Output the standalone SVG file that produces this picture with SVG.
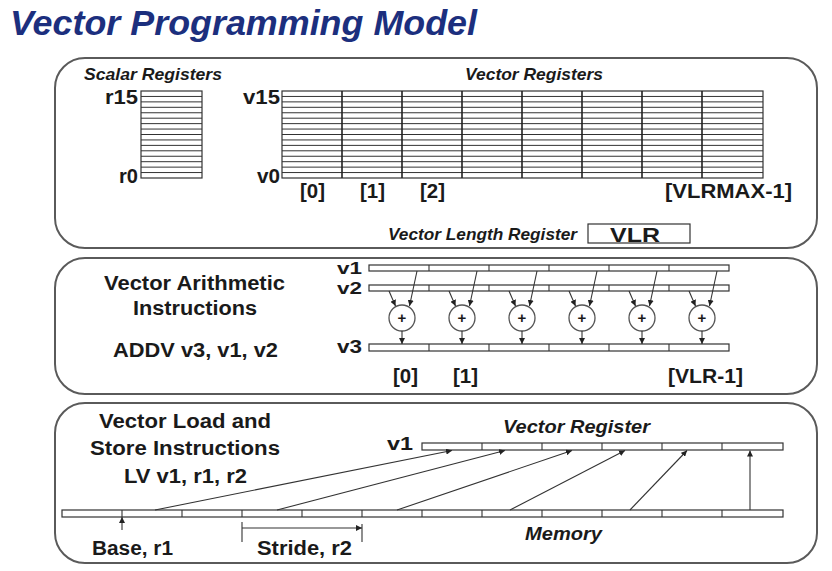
<svg xmlns="http://www.w3.org/2000/svg" width="832" height="571" viewBox="0 0 832 571">
<defs>
<marker id="ah" markerWidth="6" markerHeight="6" refX="6" refY="3" orient="auto" markerUnits="userSpaceOnUse">
<path d="M0,0 L6,3 L0,6 Z" fill="#222"/>
</marker>
<style>
.panel{fill:#fff;stroke:#5a5a5a;stroke-width:2}
.t{font-family:"Liberation Sans",Arial,sans-serif;font-weight:bold;fill:#1a1a1a}
.ti{font-family:"Liberation Sans",Arial,sans-serif;font-weight:bold;font-style:italic;fill:#1a1a1a}
.box{fill:#fff;stroke:#333;stroke-width:1.2}
.grid{stroke:#333;stroke-width:1;fill:none}
.col{stroke:#222;stroke-width:1.6;fill:none}
.ln{stroke:#333;stroke-width:1.1;fill:none}
.arr{stroke:#333;stroke-width:1.1;fill:none;marker-end:url(#ah)}
.circ{fill:#fff;stroke:#555;stroke-width:1.3}
</style>
</defs>
<rect x="0" y="0" width="832" height="571" fill="#fff"/>
<text class="ti" x="10" y="35" font-size="35" textLength="467" lengthAdjust="spacingAndGlyphs" style="fill:#1c2f7e">Vector Programming Model</text>

<g id="panel-registers">
<rect class="panel" x="55" y="58" width="762" height="190" rx="30"/>
<text class="ti" x="84" y="80" font-size="17" textLength="138" lengthAdjust="spacingAndGlyphs">Scalar Registers</text>
<text class="ti" x="465" y="80" font-size="17" textLength="138" lengthAdjust="spacingAndGlyphs">Vector Registers</text>
<g id="scalar-regs">
<rect class="box" x="141" y="91" width="61" height="87"/>
<path class="grid" d="M141,96.44H202M141,101.88H202M141,107.31H202M141,112.75H202M141,118.19H202M141,123.63H202M141,129.06H202M141,134.5H202M141,139.94H202M141,145.38H202M141,150.81H202M141,156.25H202M141,161.69H202M141,167.13H202M141,172.56H202"/>
<text class="t" x="105" y="104" font-size="20" textLength="33" lengthAdjust="spacingAndGlyphs">r15</text>
<text class="t" x="119" y="183" font-size="20" textLength="19" lengthAdjust="spacingAndGlyphs">r0</text>
</g>
<g id="vector-regs">
<rect class="box" x="282" y="91" width="481" height="87"/>
<path class="grid" d="M282,96.44H763M282,101.88H763M282,107.31H763M282,112.75H763M282,118.19H763M282,123.63H763M282,129.06H763M282,134.5H763M282,139.94H763M282,145.38H763M282,150.81H763M282,156.25H763M282,161.69H763M282,167.13H763M282,172.56H763"/>
<path class="col" d="M342,91V178M402,91V178M462,91V178M522,91V178M582,91V178M642,91V178M702,91V178"/>
<text class="t" x="243" y="104" font-size="20" textLength="37" lengthAdjust="spacingAndGlyphs">v15</text>
<text class="t" x="257" y="183" font-size="20" textLength="23" lengthAdjust="spacingAndGlyphs">v0</text>
<text class="t" x="300" y="198" font-size="21" textLength="25" lengthAdjust="spacingAndGlyphs">[0]</text>
<text class="t" x="360" y="198" font-size="21" textLength="25" lengthAdjust="spacingAndGlyphs">[1]</text>
<text class="t" x="420" y="198" font-size="21" textLength="25" lengthAdjust="spacingAndGlyphs">[2]</text>
<text class="t" x="665" y="198" font-size="21" textLength="127" lengthAdjust="spacingAndGlyphs">[VLRMAX-1]</text>
</g>
<g id="vlr">
<text class="ti" x="388" y="240" font-size="17" textLength="189" lengthAdjust="spacingAndGlyphs">Vector Length Register</text>
<rect class="box" x="588" y="224" width="102" height="19"/>
<text class="t" x="610" y="242" font-size="20" textLength="50" lengthAdjust="spacingAndGlyphs">VLR</text>
</g>
</g>

<g id="panel-arith">
<rect class="panel" x="55" y="258" width="762" height="136" rx="30"/>
<text class="t" x="104" y="290" font-size="20" textLength="181" lengthAdjust="spacingAndGlyphs">Vector Arithmetic</text>
<text class="t" x="133" y="315" font-size="20" textLength="124" lengthAdjust="spacingAndGlyphs">Instructions</text>
<text class="t" x="113" y="357" font-size="20" textLength="165" lengthAdjust="spacingAndGlyphs">ADDV v3, v1, v2</text>
<g id="bar-v1">
<rect class="box" x="369" y="265" width="360" height="6"/>
<path class="ln" d="M429,265V271M489,265V271M549,265V271M609,265V271M669,265V271"/>
<text class="t" x="337" y="274" font-size="16" textLength="25" lengthAdjust="spacingAndGlyphs">v1</text>
</g>
<g id="bar-v2">
<rect class="box" x="369" y="285" width="360" height="6"/>
<path class="ln" d="M429,285V291M489,285V291M549,285V291M609,285V291M669,285V291"/>
<text class="t" x="337" y="294" font-size="16" textLength="25" lengthAdjust="spacingAndGlyphs">v2</text>
</g>
<g id="bar-v3">
<rect class="box" x="369" y="344" width="360" height="7"/>
<path class="ln" d="M429,344V351M489,344V351M549,344V351M609,344V351M669,344V351"/>
<text class="t" x="337" y="353" font-size="18" textLength="25" lengthAdjust="spacingAndGlyphs">v3</text>
</g>
<g id="adders">
<circle class="circ" cx="402" cy="318" r="13"/>
<circle class="circ" cx="462" cy="318" r="13"/>
<circle class="circ" cx="522" cy="318" r="13"/>
<circle class="circ" cx="582" cy="318" r="13"/>
<circle class="circ" cx="642" cy="318" r="13"/>
<circle class="circ" cx="702" cy="318" r="13"/>
<g class="t" font-size="15" text-anchor="middle">
<text x="402" y="323">+</text>
<text x="462" y="323">+</text>
<text x="522" y="323">+</text>
<text x="582" y="323">+</text>
<text x="642" y="323">+</text>
<text x="702" y="323">+</text>
</g>
</g>
<text class="t" x="393" y="383" font-size="21" textLength="25" lengthAdjust="spacingAndGlyphs">[0]</text>
<text class="t" x="453" y="383" font-size="21" textLength="25" lengthAdjust="spacingAndGlyphs">[1]</text>
<text class="t" x="668" y="383" font-size="21" textLength="75" lengthAdjust="spacingAndGlyphs">[VLR-1]</text>
</g>

<g id="panel-loadstore">
<rect class="panel" x="55" y="403" width="762" height="160" rx="30"/>
<text class="t" x="99" y="428" font-size="20" textLength="172" lengthAdjust="spacingAndGlyphs">Vector Load and</text>
<text class="t" x="90" y="455" font-size="20" textLength="190" lengthAdjust="spacingAndGlyphs">Store Instructions</text>
<text class="t" x="124" y="483" font-size="20" textLength="123" lengthAdjust="spacingAndGlyphs">LV v1, r1, r2</text>
<g id="vreg-bar">
<rect class="box" x="422" y="443" width="361" height="7"/>
<path class="ln" d="M482,443V450M542,443V450M602,443V450M662,443V450M722,443V450"/>
<text class="t" x="387" y="450" font-size="18" textLength="26" lengthAdjust="spacingAndGlyphs">v1</text>
<text class="ti" x="503" y="433" font-size="19" textLength="147" lengthAdjust="spacingAndGlyphs">Vector Register</text>
</g>
<g id="memory-bar">
<rect class="box" x="62" y="510" width="721" height="7"/>
<path class="ln" d="M122,510V517M182,510V517M242,510V517M302,510V517M362,510V517M422,510V517M482,510V517M542,510V517M602,510V517M662,510V517M722,510V517"/>
<text class="ti" x="525" y="540" font-size="19" textLength="77" lengthAdjust="spacingAndGlyphs">Memory</text>
</g>
<text class="t" x="92" y="555" font-size="20" textLength="81" lengthAdjust="spacingAndGlyphs">Base, r1</text>
<text class="t" x="257" y="555" font-size="20" textLength="95" lengthAdjust="spacingAndGlyphs">Stride, r2</text>
</g>

<g id="connectors">
<path class="arr" d="M417,271L409.5,306"/>
<path class="arr" d="M389,291L395.5,306"/>
<path class="arr" d="M402,331V344"/>
<path class="arr" d="M477,271L469.5,306"/>
<path class="arr" d="M449,291L455.5,306"/>
<path class="arr" d="M462,331V344"/>
<path class="arr" d="M537,271L529.5,306"/>
<path class="arr" d="M509,291L515.5,306"/>
<path class="arr" d="M522,331V344"/>
<path class="arr" d="M597,271L589.5,306"/>
<path class="arr" d="M569,291L575.5,306"/>
<path class="arr" d="M582,331V344"/>
<path class="arr" d="M657,271L649.5,306"/>
<path class="arr" d="M629,291L635.5,306"/>
<path class="arr" d="M642,331V344"/>
<path class="arr" d="M717,271L709.5,306"/>
<path class="arr" d="M689,291L695.5,306"/>
<path class="arr" d="M702,331V344"/>

<path class="arr" d="M155,510L452,450.5"/>
<path class="arr" d="M277,510L505,450.5"/>
<path class="arr" d="M397,510L572,450.5"/>
<path class="arr" d="M510,510L625,450.5"/>
<path class="arr" d="M630,510L687,450.5"/>
<path class="arr" d="M750,510V450.5"/>

<path class="arr" d="M122,530V517"/>
<path class="arr" d="M242,528H362"/>
<path class="ln" d="M242,522V542M362,524V542"/>
</g>
</svg>
